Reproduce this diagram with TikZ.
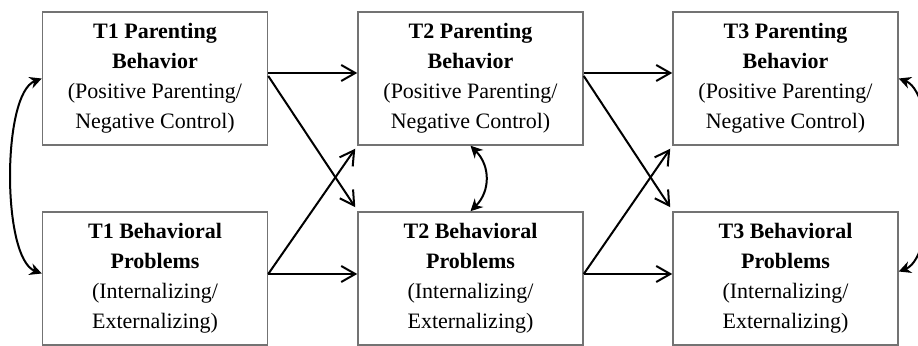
\documentclass[tikz,border=0pt]{standalone}
\usepackage{fontspec}
\setmainfont{Liberation Serif}
\usetikzlibrary{arrows.meta, calc}

\begin{document}
\begin{tikzpicture}[x=0.5pt, y=0.5pt, >={Straight Barb[length=7pt, width=8pt]}, every node/.style={font=\fontsize{11}{15}\selectfont},
  wave/.style={draw=black!55, line width=0.75pt, align=center, minimum width=112.5pt, minimum height=66.5pt, inner sep=0pt},
  link/.style={->, line width=1pt},
  corr/.style={{Stealth[length=6pt, width=6pt]}-{Stealth[length=6pt, width=6pt]}, line width=1pt}]
  \useasboundingbox (0,0) rectangle (918,346);
  \node[wave] (t1Parent) at (155,267.5) {\textbf{T1 Parenting}\\\textbf{Behavior}\\(Positive Parenting/\\Negative Control)};
  \node[wave] (t2Parent) at (470.5,267.5) {\textbf{T2 Parenting}\\\textbf{Behavior}\\(Positive Parenting/\\Negative Control)};
  \node[wave] (t3Parent) at (785.5,267.5) {\textbf{T3 Parenting}\\\textbf{Behavior}\\(Positive Parenting/\\Negative Control)};
  \node[wave] (t1Problem) at (155,67.5) {\textbf{T1 Behavioral}\\\textbf{Problems}\\(Internalizing/\\Externalizing)};
  \node[wave] (t2Problem) at (470.5,67.5) {\textbf{T2 Behavioral}\\\textbf{Problems}\\(Internalizing/\\Externalizing)};
  \node[wave] (t3Problem) at (785.5,67.5) {\textbf{T3 Behavioral}\\\textbf{Problems}\\(Internalizing/\\Externalizing)};
  % T1 -> T2
  \draw[link] ($(t1Parent.east)+(0,5.5)$) -- ($(t2Parent.west)+(0,5.5)$);
  \draw[link] ($(t1Parent.east)+(0,2.5)$) -- ($(t2Problem.north west)+(-2,4)$);
  \draw[link] ($(t1Problem.east)+(0,4.5)$) -- ($(t2Parent.south west)+(-2,-3)$);
  \draw[link] ($(t1Problem.east)+(0,4.5)$) -- ($(t2Problem.west)+(0,4.5)$);
  % T2 -> T3
  \draw[link] ($(t2Parent.east)+(0,5.5)$) -- ($(t3Parent.west)+(0,5.5)$);
  \draw[link] ($(t2Parent.east)+(0,2.5)$) -- ($(t3Problem.north west)+(-2,4)$);
  \draw[link] ($(t2Problem.east)+(0,4.5)$) -- ($(t3Parent.south west)+(-2,-3)$);
  \draw[link] ($(t2Problem.east)+(0,4.5)$) -- ($(t3Problem.west)+(0,4.5)$);
  % correlations
  \draw[corr] (t1Parent.west) .. controls +(-40,-15) and +(-40,15) .. ($(t1Problem.west)+(0,5)$);
  \draw[corr] (t2Parent.south) .. controls +(20,-20) and +(20,20) .. (t2Problem.north);
  \draw[corr] (t3Parent.east) .. controls +(40,-15) and +(40,15) .. ($(t3Problem.east)+(0,7)$);
\end{tikzpicture}
\end{document}
